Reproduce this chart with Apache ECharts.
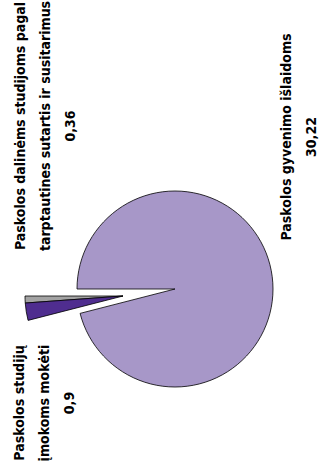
<!DOCTYPE html>
<html><head><meta charset="utf-8">
<script src="https://cdn.jsdelivr.net/npm/echarts@6/dist/echarts.min.js"></script>
<style>html,body{margin:0;padding:0;background:#fff}#c{width:321px;height:467px}</style>
</head><body><div id="c"></div>
<script>
// Data
const categories = [
  'Paskolos dalinėms studijoms pagal\ntarptautines sutartis ir susitarimus',
  'Paskolos studijų\nįmokoms mokėti',
  'Paskolos gyvenimo išlaidoms'
];
const values = [0.36, 0.9, 30.22];
const exploded = [true, true, false];

// Styles / layout (not data)
const colors = ['#a3a3a3', '#4f2d8f', '#a797c8'];
const labelPos = [[45, 126], [44, 403], [298, 137]];
const FONT = "'Liberation Sans Narrow', 'DejaVu Sans Condensed', sans-serif";
const CENTER = [175, 289];
const EXPLODE_SHIFT = [-52, 7];
const NONE = 'rgba(0,0,0,0)';

function pieSeries(showExploded, shift, withLabels) {
  return {
    type: 'pie',
    center: [CENTER[0] + shift[0], CENTER[1] + shift[1]],
    radius: [0, 98],
    startAngle: 180,
    clockwise: false,
    avoidLabelOverlap: false,
    silent: true,
    emphasis: {disabled: true},
    data: values.map((v, i) => {
      const visible = exploded[i] === showExploded;
      return {
        name: categories[i], value: v,
        itemStyle: visible
          ? {color: colors[i], borderColor: '#000', borderWidth: 0.8}
          : {color: NONE, borderColor: NONE, borderWidth: 0}
      };
    }),
    label: withLabels ? {
      show: true,
      position: 'outside',
      rotate: 90,
      fontFamily: FONT,
      fontWeight: 'bold',
      fontSize: 14,
      lineHeight: 25,
      color: '#000',
      align: 'center',
      formatter: p => p.name + '\n' + String(p.value).replace('.', ',')
    } : {show: false},
    labelLine: {show: false},
    labelLayout: withLabels ? (p => ({
      x: labelPos[p.dataIndex][0],
      y: labelPos[p.dataIndex][1],
      align: 'center',
      verticalAlign: 'middle',
      rotate: 90
    })) : undefined
  };
}

const chart = echarts.init(document.getElementById('c'), null, {renderer: 'svg'});
chart.setOption({
  animation: false,
  backgroundColor: '#ffffff',
  series: [
    pieSeries(false, [0, 0], true),
    pieSeries(true, EXPLODE_SHIFT, false)
  ]
});
</script>
</body></html>
